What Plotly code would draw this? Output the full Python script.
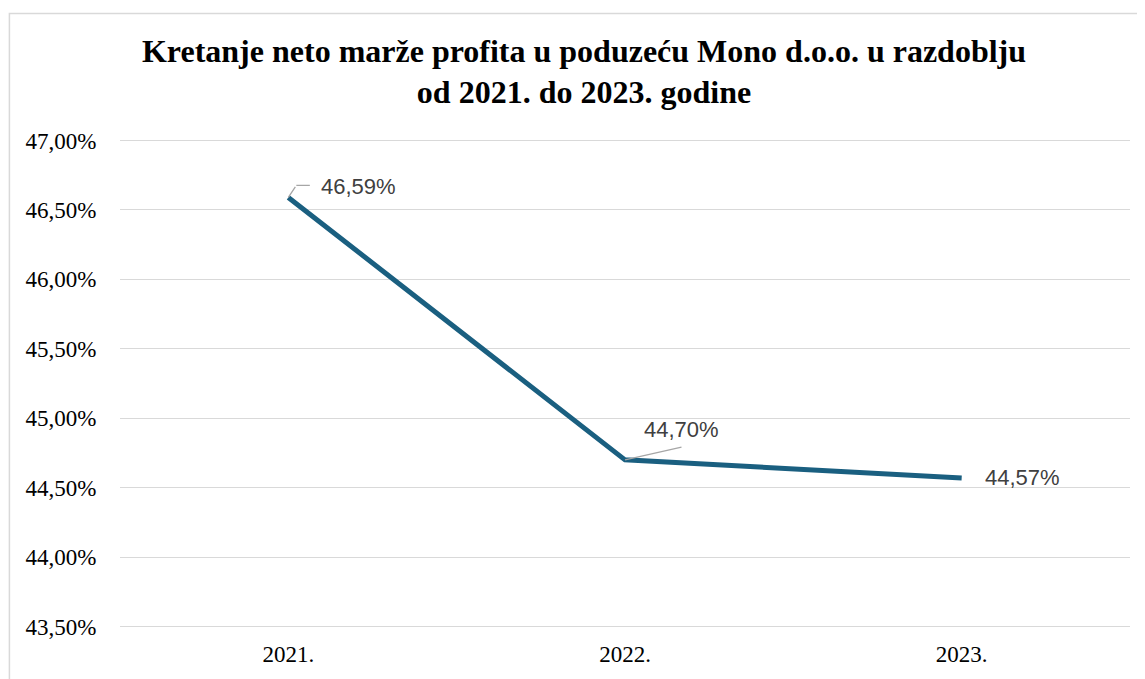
import plotly.graph_objects as go

years = ["2021.", "2022.", "2023."]
margin_pct = [46.59, 44.70, 44.57]
y_ticks = [43.5, 44.0, 44.5, 45.0, 45.5, 46.0, 46.5, 47.0]

# page body has an 8px margin, so the figure is sized to end at the window edge
W, H = 1137, 671
edge = 1.5  # keep edge gridlines 1.5px inside the plot area so they are drawn
ml, mr, mt, mb = 111.5, 14.5, 132 - edge, 52 - edge
pw = W - ml - mr
ph = H - mt - mb
ypad = edge * (max(y_ticks) - min(y_ticks)) / (ph - 2 * edge)


def fmt(v):
    return f"{v:.2f}".replace(".", ",") + "%"


x_idx = list(range(len(years)))

fig = go.Figure()
fig.add_trace(go.Scatter(
    x=x_idx, y=margin_pct, mode="lines",
    line=dict(color="#1a5f80", width=5),
    hoverinfo="skip", showlegend=False,
))

label_font = dict(family="Liberation Sans, Arial, sans-serif", size=22, color="#404040")
# text-centre offsets (pixels) from each data point: (dx, dy down-positive)
offsets = [(70, -11), (56, -30), (61, 0)]
for i, v in zip(x_idx, margin_pct):
    dx, dy = offsets[i]
    fig.add_annotation(x=i, y=v, text=fmt(v), showarrow=False,
                       xshift=dx, yshift=-dy, font=label_font)

# leader lines
lead = dict(text="", showarrow=True, arrowhead=0, arrowwidth=1.3,
            arrowcolor="#a6a6a6", standoff=0)
fig.add_annotation(x=0, y=margin_pct[0], ax=8, ay=-12, **lead)
fig.add_annotation(x=0, y=margin_pct[0], xshift=8, yshift=12, ax=15, ay=0, **lead)
fig.add_annotation(x=1, y=margin_pct[1], ax=58, ay=-13, **lead)

# outer chart-area border (left and top edges visible)
fig.add_shape(type="rect", xref="paper", yref="paper",
              x0=(0.8 - ml) / pw, x1=(W + 20 - ml) / pw,
              y0=-(mb + 30) / ph, y1=(ph + mt - 4.7) / ph,
              line=dict(color="#d9d9d9", width=1.5), fillcolor="rgba(0,0,0,0)", layer="below")

ytext = [fmt(v) for v in y_ticks]
serif = "Liberation Serif, Times New Roman, serif"

fig.update_layout(
    width=W, height=H,
    margin=dict(l=ml, r=mr, t=mt, b=mb, autoexpand=False),
    paper_bgcolor="white", plot_bgcolor="white",
    title=dict(
        text="<b>Kretanje neto marže profita u poduzeću Mono d.o.o. u razdoblju<br>od 2021. do 2023. godine</b>",
        x=576 / W, xanchor="center", y=1 - 53.5 / H, yanchor="middle",
        font=dict(family=serif, size=32, color="black"),
    ),
    xaxis=dict(
        range=[-0.5, 2.5], tickvals=x_idx, ticktext=years,
        showgrid=False, showline=False, zeroline=False, automargin=False,
        ticks="outside", ticklen=5, tickcolor="rgba(0,0,0,0)",
        tickfont=dict(family=serif, size=23, color="black"),
        fixedrange=True,
    ),
    yaxis=dict(
        range=[min(y_ticks) - ypad, max(y_ticks) + ypad], tickvals=y_ticks, ticktext=ytext,
        showgrid=True, gridcolor="#d9d9d9", gridwidth=1.3, zeroline=False, showline=False,
        automargin=False,
        ticks="outside", ticklen=18, tickcolor="rgba(0,0,0,0)",
        tickfont=dict(family=serif, size=23, color="black"),
        fixedrange=True,
    ),
)

fig.write_html("out.html")
